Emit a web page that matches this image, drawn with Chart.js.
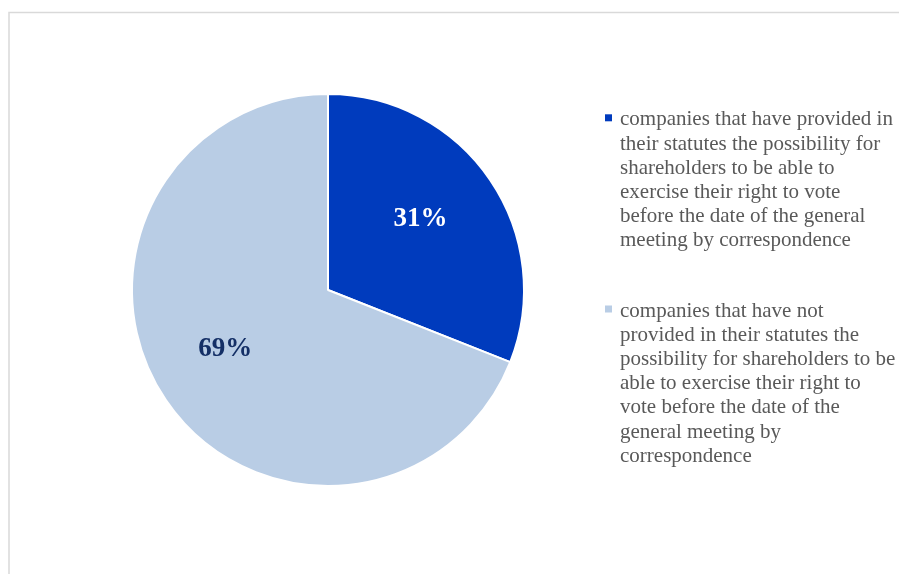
<!DOCTYPE html>
<html>
<head>
<meta charset="utf-8">
<script src="https://cdn.jsdelivr.net/npm/chart.js@4.4.1/dist/chart.umd.min.js"></script>
<style>
	html, body { margin: 0; padding: 0; background: #fff; }
	#wrap { width: 899px; height: 574px; }
</style>
</head>
<body>
<div id="wrap"><canvas id="myChart" width="899" height="574"></canvas></div>
<script>
// data (legend text kept as the lines it is shown in)
const categories = [
	['companies that have provided in', 'their statutes the possibility for', 'shareholders to be able to',
		'exercise their right to vote', 'before the date of the general', 'meeting by correspondence'],
	['companies that have not', 'provided in their statutes the', 'possibility for shareholders to be',
		'able to exercise their right to', 'vote before the date of the', 'general meeting by', 'correspondence'],
];
const shares = [31, 69];
const sliceColors = ['#003bbd', '#b9cde5'];
const valueColors = ['#ffffff', '#142f66'];
const labelAngleShift = [-0.07, 0.09];

// light grey frame round the chart (runs off the page right/bottom)
const framePlugin = {
	id: 'frame',
	beforeDraw(chart) {
		const ctx = chart.ctx;
		ctx.save();
		ctx.strokeStyle = '#d9d9d9';
		ctx.lineWidth = 1.5;
		ctx.beginPath();
		ctx.moveTo(9, 600);
		ctx.lineTo(9, 12.5);
		ctx.lineTo(920, 12.5);
		ctx.stroke();
		ctx.restore();
	},
};

// percentage labels inside slices
const sliceLabels = {
	id: 'sliceLabels',
	afterDatasetsDraw(chart) {
		const ctx = chart.ctx;
		const meta = chart.getDatasetMeta(0);
		ctx.save();
		ctx.font = 'bold 27px "Liberation Serif", "Times New Roman", serif';
		ctx.textAlign = 'center';
		ctx.textBaseline = 'middle';
		meta.data.forEach((arc, i) => {
			const p = arc.getProps(['x', 'y', 'startAngle', 'endAngle', 'outerRadius'], true);
			const mid = (p.startAngle + p.endAngle) / 2 + labelAngleShift[i];
			const r = p.outerRadius * 0.6;
			ctx.fillStyle = valueColors[i];
			ctx.fillText(shares[i] + '%', p.x + Math.cos(mid) * r, p.y + Math.sin(mid) * r + 2);
		});
		ctx.restore();
	},
};

// legend on the right
const sideLegend = {
	id: 'sideLegend',
	afterDraw(chart) {
		const ctx = chart.ctx;
		const lineH = 24.2;
		const gap = 46;
		const textX = 620;
		const items = chart.data.labels;
		ctx.save();
		ctx.font = '21px "Liberation Serif", "Times New Roman", serif';
		let total = gap * (items.length - 1);
		items.forEach((l) => { total += l.length * lineH; });
		let y = 288 - total / 2;
		ctx.textBaseline = 'middle';
		items.forEach((lines, i) => {
			ctx.fillStyle = sliceColors[i];
			ctx.fillRect(605, y + lineH / 2 - 5.5, 7, 7);
			ctx.fillStyle = '#595959';
			lines.forEach((ln, k) => {
				ctx.fillText(ln, textX, y + lineH / 2 + k * lineH);
			});
			y += lines.length * lineH + gap;
		});
		ctx.restore();
	},
};

const ctx = document.getElementById('myChart').getContext('2d');
const myChart = new Chart(ctx, {
	type: 'pie',
	data: {
		labels: categories,
		datasets: [{
			data: shares,
			backgroundColor: sliceColors,
			borderColor: '#ffffff',
			borderWidth: 2,
		}],
	},
	options: {
		responsive: false,
		animation: false,
		layout: {
			padding: { left: 131, right: 374, top: 93, bottom: 87 },
		},
		plugins: {
			legend: { display: false },
			tooltip: { enabled: false },
		},
	},
	plugins: [framePlugin, sliceLabels, sideLegend],
});
</script>
</body>
</html>
